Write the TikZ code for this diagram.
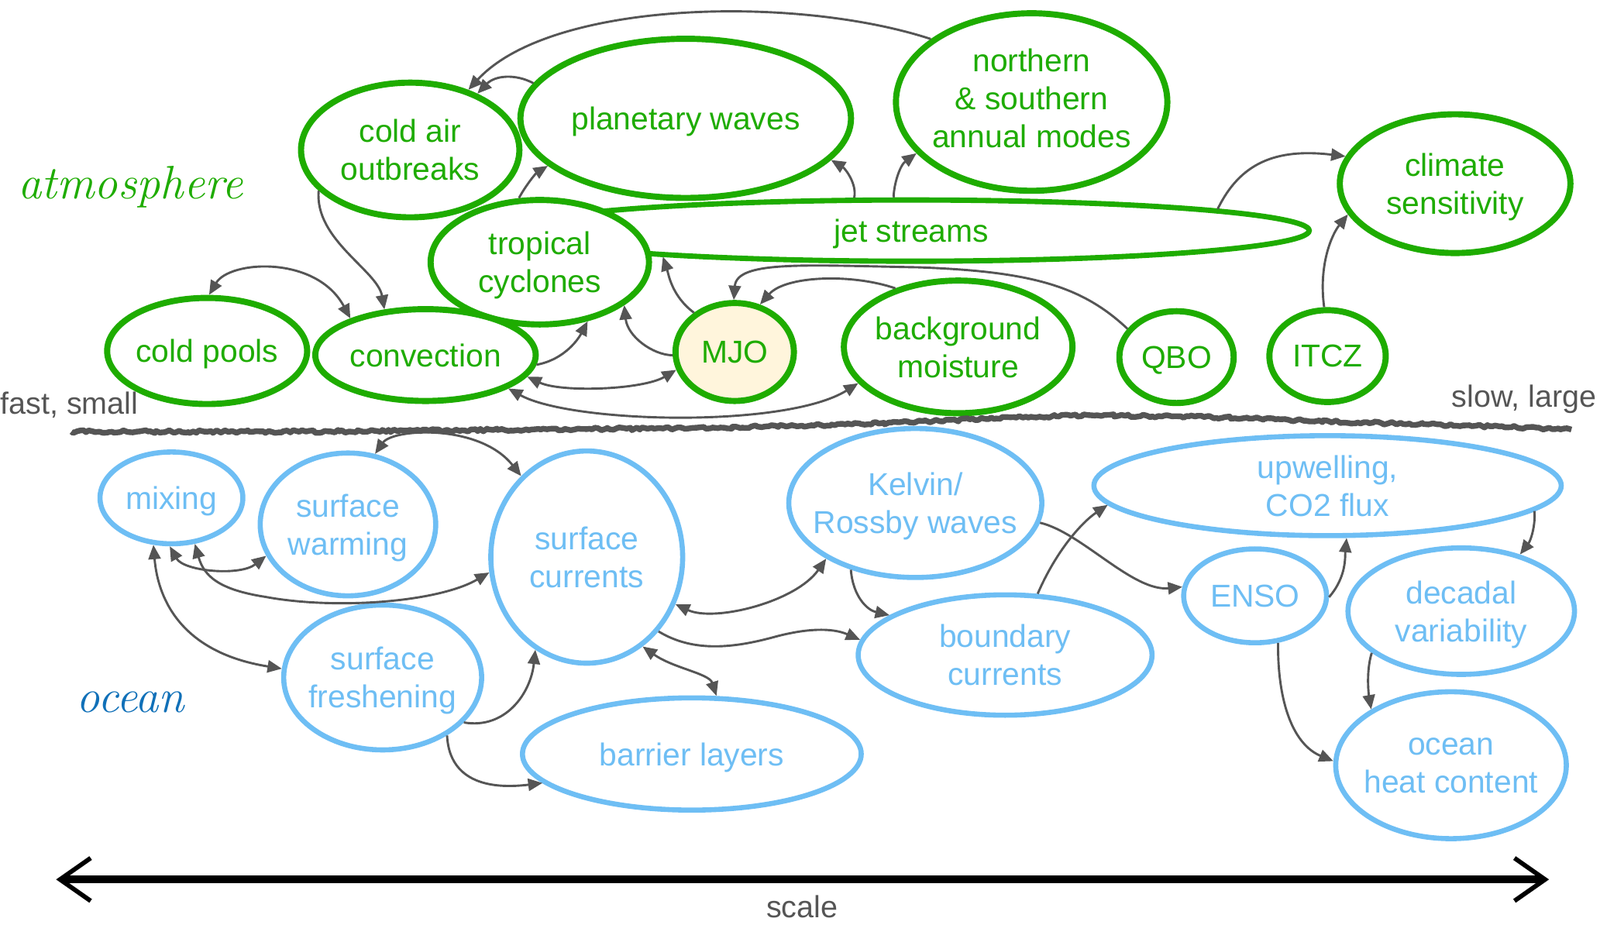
\documentclass[tikz,border=0pt]{standalone}
\usepackage{fontspec}
\setsansfont{Liberation Sans}
\usetikzlibrary{shapes.geometric,arrows.meta,decorations.pathmorphing}
\definecolor{atm}{RGB}{30,172,0}
\definecolor{oce}{RGB}{110,190,244}
\definecolor{arr}{RGB}{85,85,85}
\definecolor{mjofill}{RGB}{255,245,220}
\definecolor{handblue}{RGB}{16,112,184}
\tikzset{
  base/.style={ellipse, fill=white, inner sep=-25pt, align=center, text depth=0pt,
    font=\sffamily\fontsize{15.5}{18.6}\selectfont},
  anode/.style={base, draw=atm, line width=3pt, text=atm},
  onode/.style={base, draw=oce, line width=2.5pt, text=oce},
  conn/.style={draw=arr, line width=1.1pt, -{Triangle[length=7pt,width=6pt]}},
  dconn/.style={conn, {Triangle[length=7pt,width=6pt]}-{Triangle[length=7pt,width=6pt]}},
  hand/.style={font=\rmfamily\itshape\fontsize{23}{26}\selectfont, inner sep=0pt},
  side/.style={font=\sffamily\fontsize{15}{18}\selectfont, text=arr, inner sep=0pt},
  sepline/.style={draw=arr, line width=2.8pt, line join=round, decorate,
    decoration={random steps, segment length=1.5pt, amplitude=0.7pt}},
}
\begin{document}
\begin{tikzpicture}[x=0.5pt,y=-0.5pt]
\useasboundingbox (0,0) rectangle (1568,906);
% atmosphere
\node[anode, line width=2.6pt, minimum width=390pt, minimum height=30pt] (jet) at (893,226) {jet streams};
\node[anode, minimum width=107pt, minimum height=66pt] (cao) at (402,147) {cold air\\outbreaks};
\node[anode, minimum width=162pt, minimum height=78pt] (pw) at (672,116) {planetary waves};
\node[anode, text depth=4pt, minimum width=133pt, minimum height=87pt] (nsam) at (1011,100) {northern\\\& southern\\annual modes};
\node[anode, minimum width=113pt, minimum height=68pt] (cs) at (1426,180) {climate\\sensitivity};
\node[anode, minimum width=107pt, minimum height=61pt] (tc) at (529,257) {tropical\\cyclones};
\node[anode, minimum width=98pt, minimum height=52pt] (cp) at (203,344) {cold pools};
\node[anode, minimum width=108pt, minimum height=45pt] (conv) at (417,348) {convection};
\node[anode, fill=mjofill, minimum width=58pt, minimum height=48pt] (mjo) at (720,345) {MJO};
\node[anode, text depth=-4.5pt, minimum width=112pt, minimum height=65pt] (bm) at (939,340) {background\\moisture};
\node[anode, minimum width=56pt, minimum height=45pt] (qbo) at (1153,350) {QBO};
\node[anode, minimum width=57pt, minimum height=45pt] (itcz) at (1301,349) {ITCZ};
% ocean
\node[onode, minimum width=70pt, minimum height=45pt] (mix) at (168,488) {mixing};
\node[onode, minimum width=86pt, minimum height=70pt] (sw) at (341,514) {surface\\warming};
\node[onode, minimum width=94pt, minimum height=104pt] (sc) at (575,546) {surface\\currents};
\node[onode, minimum width=97pt, minimum height=71pt] (sf) at (375,664) {surface\\freshening};
\node[onode, minimum width=166pt, minimum height=55pt] (bl) at (678,739) {barrier layers};
\node[onode, minimum width=124pt, minimum height=73pt] (kr) at (897,493) {Kelvin/\\Rossby waves};
\node[onode, minimum width=229pt, minimum height=49pt] (up) at (1301,476) {upwelling,\\CO2 flux};
\node[onode, minimum width=70pt, minimum height=46pt] (enso) at (1230,584) {ENSO};
\node[onode, minimum width=111pt, minimum height=62pt] (dv) at (1432,599) {decadal\\variability};
\node[onode, minimum width=144pt, minimum height=59pt] (bc) at (985,642) {boundary\\currents};
\node[onode, minimum width=113pt, minimum height=72pt] (ohc) at (1422,750) {ocean\\heat content};
% labels
\node[hand, text=atm] (atmlabel) at (128,183) {atmosphere};
\node[hand, text=handblue] (oceanlabel) at (128,688) {ocean};
\node[side, anchor=west] (fast) at (0,397) {fast, small};
\node[side, anchor=east] (slow) at (1565,391) {slow, large};
\node[side] (scalelabel) at (786,889) {scale};
% separator
\draw[sepline] (70,423) -- (200,423) -- (300,423) -- (420,422) -- (530,421) -- (650,420) -- (750,418) -- (835,416) -- (914,413) -- (990,409) -- (1069,407) -- (1150,408) -- (1250,411) -- (1330,414) -- (1400,416) -- (1470,418) -- (1540,421);
% scale arrow
\coordinate (sL) at (55,862);
\coordinate (sR) at (1518,862);
\draw[line width=3.8pt, {Straight Barb[length=15pt,width=21pt,line width=2.2pt]}-{Straight Barb[length=15pt,width=21pt,line width=2.2pt]}] (sL) -- (sR);
% atmosphere connectors
\draw[conn] (nsam.148) .. controls (780,-5) and (540,0) .. (cao.46);
\draw[conn] (pw.167) .. controls (505,72) and (485,74) .. (cao.40);
\draw[conn] (cao.204) .. controls (308,235) and (370,265) .. (conv.132);
\draw[dconn] (cp.88) .. controls (225,255) and (310,250) .. (conv.154);
\draw[conn] (conv.355) .. controls (555,352) and (568,330) .. (tc.309);
\draw[dconn] (conv.348) .. controls (550,385) and (630,382) .. (mjo.197);
\draw[dconn] (conv.338) .. controls (560,415) and (770,420) .. (bm.200);
\draw[conn] (mjo.183) .. controls (640,348) and (615,330) .. (tc.333);
\draw[conn] (mjo.136) .. controls (658,290) and (655,268) .. (jet.186);
\draw[conn] (qbo.150) .. controls (1060,280) and (1010,266) .. (900,262) .. controls (790,260) and (722,255) .. (mjo.91);
\draw[conn] (bm.137) .. controls (835,268) and (770,270) .. (mjo.62);
\draw[conn] (tc.108) .. controls (515,182) and (525,170) .. (pw.199);
\draw[conn] (jet.150) .. controls (840,180) and (828,165) .. (pw.344);
\draw[conn] (jet.118) .. controls (876,180) and (882,162) .. (nsam.204);
\draw[conn] (jet.4) .. controls (1215,160) and (1250,145) .. (cs.166);
\draw[conn] (itcz.94) .. controls (1292,260) and (1305,230) .. (cs.196);
% ocean connectors
\draw[dconn] (sw.69) .. controls (385,420) and (470,415) .. (sc.129);
\draw[dconn] (mix.268) .. controls (180,560) and (235,565) .. (sw.201);
\draw[dconn] (mix.297) .. controls (200,565) and (215,578) .. (260,585) .. controls (330,598) and (430,590) .. (sc.189);
\draw[dconn] (mix.249) .. controls (155,590) and (180,640) .. (sf.175);
\draw[conn] (sf.331) .. controls (495,715) and (520,680) .. (sc.241);
\draw[conn] (sf.318) .. controls (440,760) and (470,775) .. (bl.191);
\draw[dconn] (sc.302) .. controls (660,655) and (695,660) .. (bl.67);
\draw[dconn] (sc.332) .. controls (700,610) and (780,590) .. (kr.212);
\draw[conn] (sc.314) .. controls (680,640) and (720,635) .. (760,624) .. controls (790,616) and (815,615) .. (bc.174);
\draw[conn] (kr.226) .. controls (836,585) and (850,598) .. (bc.161);
\draw[conn] (kr.351) .. controls (1060,522) and (1110,580) .. (enso.173);
\draw[conn] (bc.62) .. controls (1035,540) and (1060,512) .. (up.185);
\draw[conn] (enso.359) .. controls (1320,565) and (1318,545) .. (up.290);
\draw[conn] (up.353) .. controls (1505,515) and (1500,530) .. (dv.44);
\draw[conn] (enso.296) .. controls (1252,690) and (1268,730) .. (ohc.178);
\draw[conn] (dv.205) .. controls (1338,660) and (1342,685) .. (ohc.145);
\end{tikzpicture}
\end{document}
